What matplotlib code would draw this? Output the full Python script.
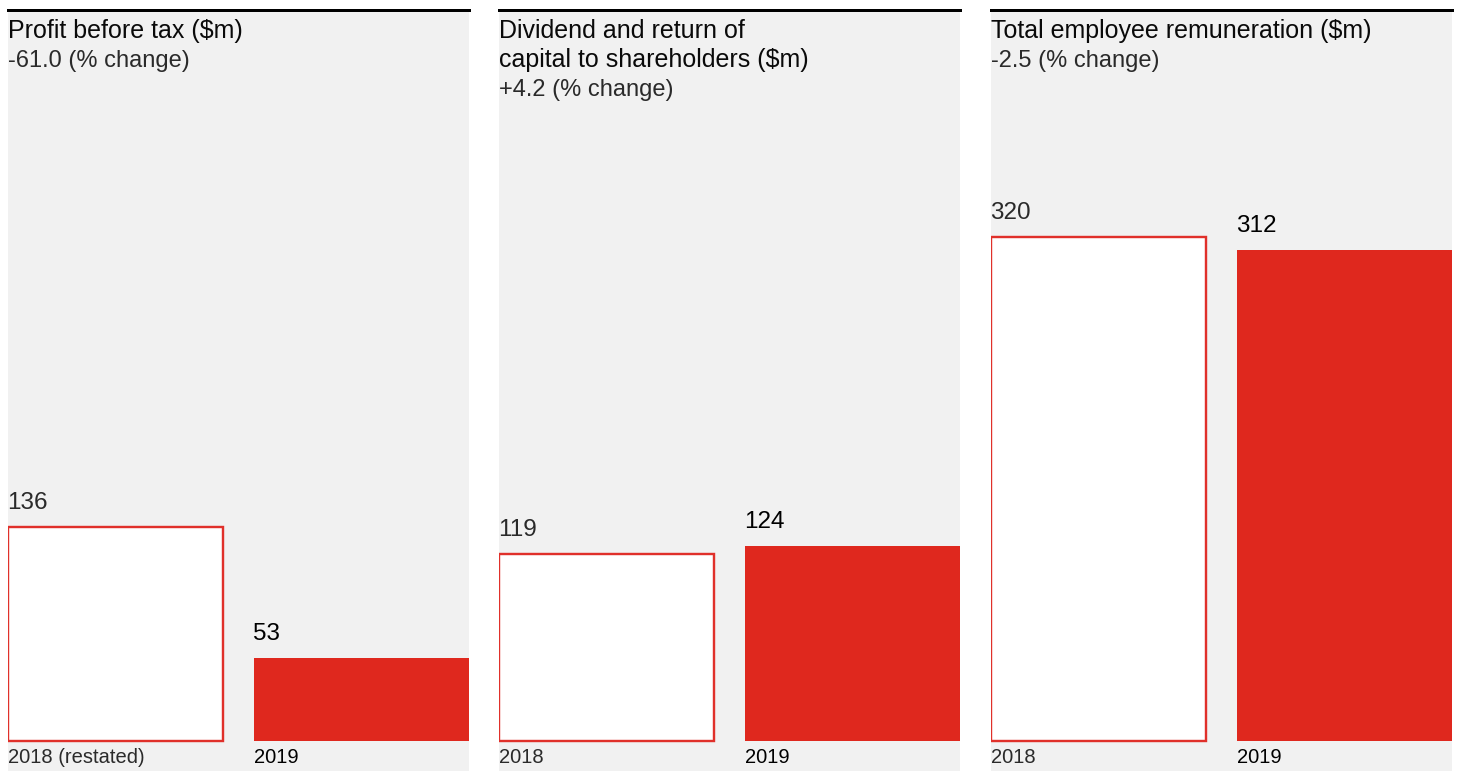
import matplotlib
matplotlib.use("Agg")
import matplotlib.pyplot as plt

titles = ["Profit before tax ($m)",
          "Dividend and return of\ncapital to shareholders ($m)",
          "Total employee remuneration ($m)"]
changes = ["-61.0 (% change)", "+4.2 (% change)", "-2.5 (% change)"]
prev_labels = ["2018 (restated)", "2018", "2018"]
curr_labels = ["2019", "2019", "2019"]
values_prev = [136, 119, 320]
values_curr = [53, 124, 312]

RED = "#df281e"
GREY_BG = "#f1f1f1"
W, H = 1467, 771
DPI = 100
PX = 72 / DPI  # points per pixel

plt.rcParams['font.family'] = ['Liberation Sans', 'DejaVu Sans']

fig = plt.figure(figsize=(W / DPI, H / DPI), dpi=DPI)
fig.patch.set_facecolor("white")

lefts_px = [8, 499, 991]
width_px = 461
top_px = 9.5
scale = 1.575          # px per unit
baseline_px = 741
ymin = -(H - baseline_px) / scale
ymax = ymin + (H - top_px) / scale
bw = 0.874

for i in range(3):
    ax = fig.add_axes([lefts_px[i] / W, 0, width_px / W, 1 - top_px / H])
    ax.set_facecolor(GREY_BG)
    ax.set_xlim(-bw / 2, 1 + bw / 2)
    ax.set_ylim(ymin, ymax)
    for s in ["left", "right", "bottom"]:
        ax.spines[s].set_visible(False)
    ax.spines["top"].set_color("black")
    ax.spines["top"].set_linewidth(3 * PX)
    ax.set_xticks([])
    ax.set_yticks([])

    ax.bar([0], [values_prev[i]], width=bw, color="white",
           edgecolor="#e0302a", linewidth=2.4 * PX, zorder=3)
    ax.bar([1], [values_curr[i]], width=bw, color=RED, linewidth=0, zorder=3)

    # value labels
    ax.annotate(str(values_prev[i]), xy=(0 - bw / 2, values_prev[i]),
                xytext=(-1 * PX, 18 * PX), textcoords="offset points",
                ha="left", va="baseline", fontsize=17.5, color="#2a2a2a")
    ax.annotate(str(values_curr[i]), xy=(1 - bw / 2, values_curr[i]),
                xytext=(-1 * PX, 18 * PX), textcoords="offset points",
                ha="left", va="baseline", fontsize=17.5, color="#000000")

    # category labels
    ax.annotate(prev_labels[i], xy=(0 - bw / 2, 0),
                xytext=(0, -7 * PX), textcoords="offset points",
                ha="left", va="top", fontsize=14.5, color="#2a2a2a",
                annotation_clip=False)
    ax.annotate(curr_labels[i], xy=(1 - bw / 2, 0),
                xytext=(0, -7 * PX), textcoords="offset points",
                ha="left", va="top", fontsize=14.5, color="#000000",
                annotation_clip=False)

    # titles
    lines = titles[i].split("\n")
    for j, line in enumerate(lines):
        ax.annotate(line, xy=(0, 1), xycoords="axes fraction",
                    xytext=(0, -(38 - top_px + 29 * j) * PX),
                    textcoords="offset points", ha="left", va="baseline",
                    fontsize=18, color="#0a0a0a")
    j = len(lines)
    ax.annotate(changes[i], xy=(0, 1), xycoords="axes fraction",
                xytext=(0, -(38 - top_px + 29 * j) * PX),
                textcoords="offset points", ha="left", va="baseline",
                fontsize=17, color="#2a2a2a")

fig.savefig("out.png", dpi=DPI, facecolor="white")
